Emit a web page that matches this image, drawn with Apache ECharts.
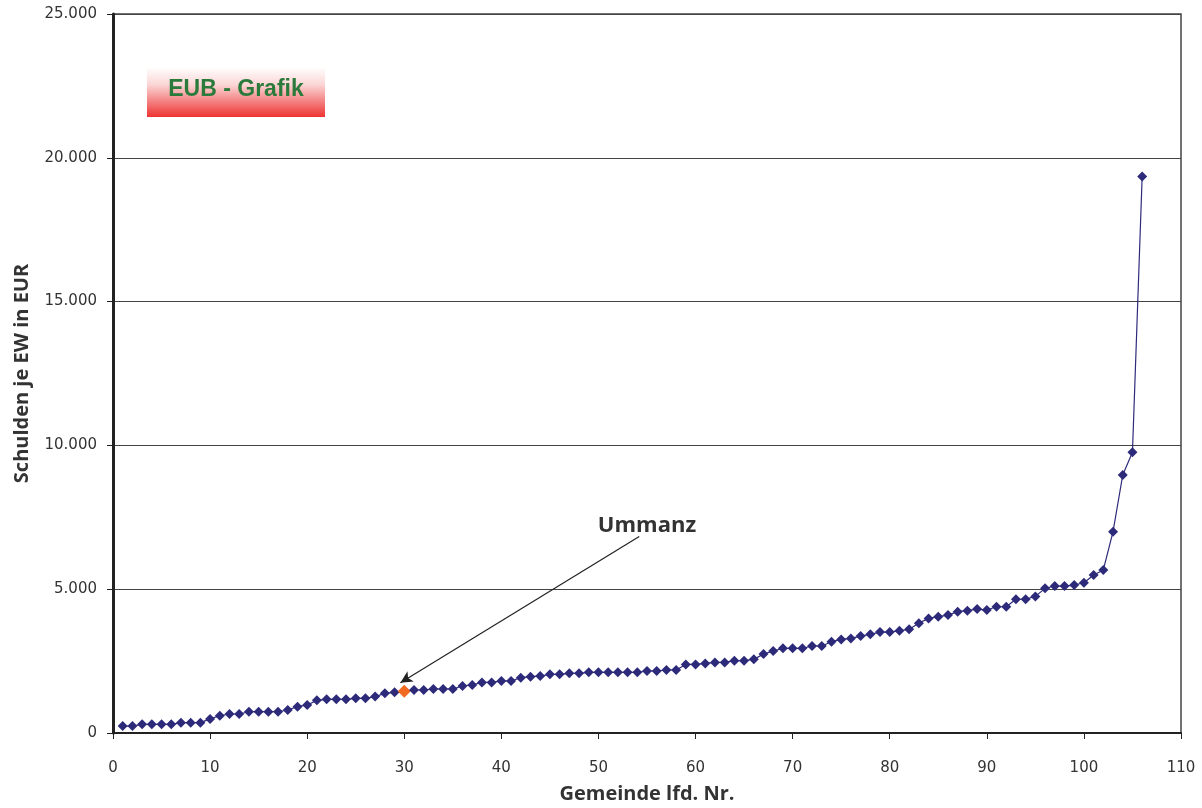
<!DOCTYPE html>
<html>
<head>
<meta charset="utf-8">
<script src="https://cdn.jsdelivr.net/npm/echarts@6/dist/echarts.min.js"></script>
<style>
  html, body { margin: 0; padding: 0; background: #fff; }
  #chart { width: 1202px; height: 808px; }
</style>
</head>
<body>
<div id="chart"></div>
<script>
// Schulden je Einwohner (EUR) der Gemeinden, aufsteigend sortiert
const schuldenJeEW = [
  240, 240, 300, 300, 300, 300, 360, 360, 360, 490,
  600, 660, 660, 740, 740, 740, 740, 800, 915, 975,
  1135, 1170, 1170, 1170, 1205, 1205, 1265, 1380, 1415, 1450,
  1495, 1495, 1530, 1530, 1530, 1635, 1670, 1760, 1760, 1810,
  1810, 1925, 1960, 1980, 2040, 2040, 2075, 2075, 2110, 2110,
  2110, 2110, 2110, 2110, 2155, 2155, 2190, 2190, 2385, 2385,
  2420, 2455, 2455, 2515, 2515, 2560, 2745, 2850, 2945, 2945,
  2945, 3025, 3025, 3175, 3255, 3290, 3370, 3430, 3510, 3510,
  3555, 3605, 3815, 3985, 4045, 4100, 4220, 4255, 4310, 4275,
  4390, 4390, 4650, 4650, 4750, 5030, 5110, 5110, 5145, 5225,
  5495, 5670, 7000, 8970, 9760, 19350
];
// Laufende Nummer der hervorgehobenen Gemeinde
const ummanzNr = 30;
const ummanzName = 'Ummanz';
// Pfeil zur Beschriftung (Datenkoordinaten)
const pfeilVon = [54.2, 6830];
const pfeilBis = [29.6, 1750];
const beschriftungPos = [55.0, 7200];

const xTicks = { min: 0, max: 110, interval: 10 };
const yTicks = { min: 0, max: 25000, interval: 5000 };

const seriesData = schuldenJeEW.map((v, i) => {
  const nr = i + 1;
  if (nr === ummanzNr) {
    return { value: [nr, v], symbolSize: 13, itemStyle: { color: '#f26a21' }, z: 5 };
  }
  return [nr, v];
});

const fmt = v => v === 0 ? '0' : v.toLocaleString('de-DE');
const navy = '#2d2a7a';
const tickFont = { fontFamily: 'DejaVu Sans', fontSize: 15, color: '#333' };
const titleFont = { fontFamily: 'Open Sans', fontWeight: 'bold', fontSize: 20, color: '#333' };

const chart = echarts.init(document.getElementById('chart'), null, { renderer: 'canvas' });
chart.setOption({
  animation: false,
  backgroundColor: '#fff',
  grid: {
    left: 113, right: 21, top: 14, bottom: 75,
    containLabel: false, outerBoundsMode: 'none',
    show: true, borderColor: '#444', borderWidth: 1.5
  },
  xAxis: {
    type: 'value', min: xTicks.min, max: xTicks.max, interval: xTicks.interval,
    name: 'Gemeinde lfd. Nr.', nameLocation: 'middle', nameGap: 51,
    nameTextStyle: titleFont,
    axisLine: { show: true, onZero: false, lineStyle: { color: '#222', width: 2 } },
    axisTick: { show: true, length: 6, lineStyle: { color: '#222' } },
    axisLabel: Object.assign({ margin: 28, formatter: fmt }, tickFont),
    splitLine: { show: false }
  },
  yAxis: {
    type: 'value', min: yTicks.min, max: yTicks.max, interval: yTicks.interval,
    name: 'Schulden je EW in EUR', nameLocation: 'middle', nameGap: 81,
    nameTextStyle: titleFont,
    axisLine: { show: true, lineStyle: { color: '#222', width: 3 } },
    axisTick: { show: true, length: 6, lineStyle: { color: '#222' } },
    axisLabel: Object.assign({ margin: 16, formatter: fmt }, tickFont),
    splitLine: { show: true, lineStyle: { color: '#444', width: 1 } }
  },
  series: [{
    type: 'line',
    data: seriesData,
    symbol: 'diamond',
    symbolSize: 10,
    itemStyle: { color: navy },
    lineStyle: { color: navy, width: 1.2 },
    markLine: {
      silent: true,
      symbol: ['none', 'arrow'],
      symbolSize: [9, 12],
      lineStyle: { color: '#222', width: 1.2, type: 'solid' },
      label: { show: false },
      data: [[{ coord: pfeilVon }, { coord: pfeilBis }]]
    },
    markPoint: {
      silent: true,
      symbol: 'circle', symbolSize: 0,
      label: Object.assign({
        show: true, position: 'inside', formatter: ummanzName
      }, titleFont, { fontSize: 22 }),
      data: [{ coord: beschriftungPos }]
    }
  }],
  graphic: [{
    type: 'group', left: 147, top: 67,
    children: [{
      type: 'rect', shape: { x: 0, y: 0, width: 178, height: 50 },
      style: {
        fill: new echarts.graphic.LinearGradient(0, 0, 0, 1, [
          { offset: 0, color: '#ffffff' },
          { offset: 0.35, color: '#fbd6d6' },
          { offset: 1, color: '#ee3333' }
        ])
      }
    }, {
      type: 'text', x: 89, y: 23,
      style: {
        text: 'EUB - Grafik', align: 'center', verticalAlign: 'middle',
        font: 'bold 23px "Liberation Sans", Arial, sans-serif', fill: '#2a7a3c'
      }
    }]
  }]
});
</script>
</body>
</html>
